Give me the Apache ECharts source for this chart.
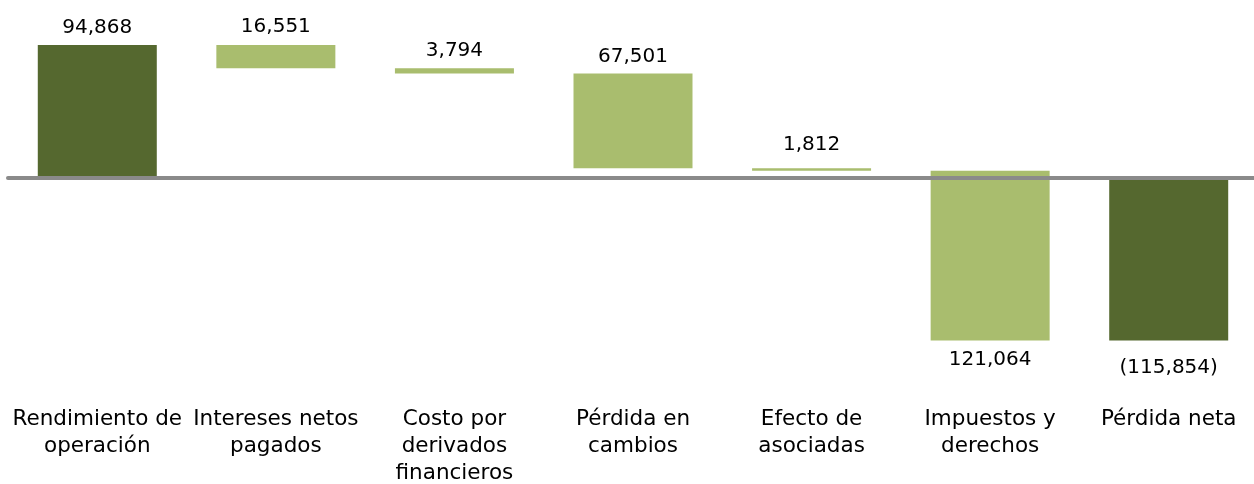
<!DOCTYPE html>
<html>
<head>
<meta charset="utf-8">
<script src="https://cdn.jsdelivr.net/npm/echarts@6/dist/echarts.min.js"></script>
<style>
html,body{margin:0;padding:0;background:#fff;}
#chart{width:1254px;height:484px;}
</style>
</head>
<body>
<div id="chart"></div>
<script>
const categories = ['Rendimiento de\noperación', 'Intereses netos\npagados', 'Costo por\nderivados\nfinancieros', 'Pérdida en\ncambios', 'Efecto de\nasociadas', 'Impuestos y\nderechos', 'Pérdida neta'];
const changes = [94868, -16551, -3794, -67501, -1812, -121064, 0];
const isTotal = [true, false, false, false, false, false, true];
const valueLabels = ['94,868', '16,551', '3,794', '67,501', '1,812', '121,064', '(115,854)'];

const DARK = '#55682F';
const LIGHT = '#A9BD6E';
const FONT = 'DejaVu Sans';
const labelGap = [7, 8.5, 7, 7, 13, 9, 17];

const baseData = [], posData = [], negData = [];
let run = 0;
for (let i = 0; i < categories.length; i++) {
  let start, end;
  if (isTotal[i]) {
    start = 0;
    end = (i === 0) ? changes[i] : run;
  } else {
    start = run;
    end = run + changes[i];
  }
  run = end;
  const low = Math.min(start, end), high = Math.max(start, end);
  const color = isTotal[i] ? DARK : LIGHT;
  let base = 0, pos = 0, neg = 0;
  if (low >= 0) { base = low; pos = high - low; }
  else if (high <= 0) { base = high; neg = low - high; }
  else { base = 0; pos = high; neg = low; }
  const labelBelow = end < 0;
  baseData.push(base);
  posData.push({
    value: pos,
    itemStyle: { color: color },
    label: { show: !labelBelow, position: 'top', distance: labelGap[i], formatter: valueLabels[i] }
  });
  negData.push({
    value: neg,
    itemStyle: { color: color },
    label: { show: labelBelow, position: 'bottom', distance: labelGap[i], formatter: valueLabels[i] }
  });
}

const labelStyle = { fontFamily: FONT, fontSize: 20, color: '#000' };

const chart = echarts.init(document.getElementById('chart'));
chart.setOption({
  animation: false,
  backgroundColor: '#fff',
  grid: { left: 8, right: -4, top: 37.8, height: 322.5, containLabel: false, outerBoundsMode: 'none' },
  xAxis: [{
    type: 'category',
    data: categories,
    z: 10,
    axisLine: { onZero: true, lineStyle: { color: '#8a8a8a', width: 4 } },
    axisTick: { show: false },
    splitLine: { show: false },
    axisLabel: { show: false }
  }, {
    type: 'category',
    data: categories,
    position: 'bottom',
    axisLine: { show: false, onZero: false },
    axisTick: { show: false },
    splitLine: { show: false },
    axisLabel: { interval: 0, margin: 46, fontFamily: FONT, fontSize: 21.5, color: '#000', lineHeight: 27 }
  }],
  yAxis: {
    type: 'value',
    min: -130000,
    max: 100000,
    show: false,
    splitLine: { show: false }
  },
  series: [
    { type: 'bar', stack: 'w', barWidth: 119, data: baseData, itemStyle: { color: 'rgba(0,0,0,0)' }, silent: true },
    { type: 'bar', stack: 'w', barWidth: 119, data: posData, label: labelStyle },
    { type: 'bar', stack: 'w', barWidth: 119, data: negData, label: labelStyle }
  ]
});
</script>
</body>
</html>
